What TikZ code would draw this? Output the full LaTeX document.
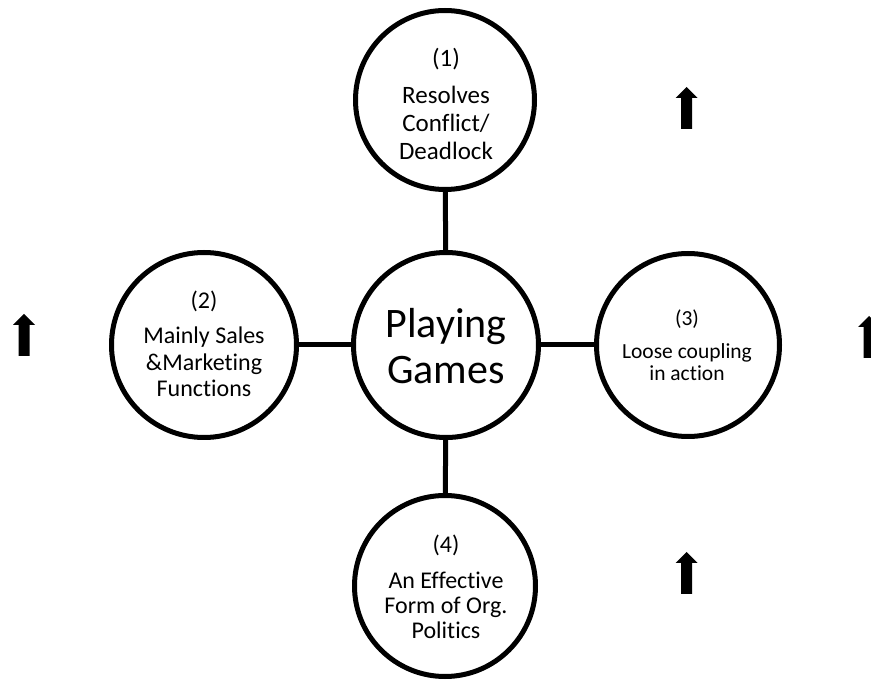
\documentclass[tikz,border=0pt]{standalone}
\usepackage{fontspec}
\setmainfont{Carlito}[Ligatures=NoCommon]
\begin{document}
\begin{tikzpicture}[x=1pt,y=-1pt,
  bubble/.style={draw=black, line width=5pt, circle, inner sep=0pt, fill=white},
  caption/.style={inner sep=0pt, align=center},
  link/.style={line width=5pt},
  uparrow/.pic={\fill[black] (0,0) -- (11,11) -- (5.5,11) -- (5.5,42) -- (-5.5,42) -- (-5.5,11) -- (-11,11) -- cycle;}
]
% canvas
\fill[white] (0,0) rectangle (871,684);
\useasboundingbox (0,0) rectangle (871,684);

% bubbles
\node[bubble, minimum size=179pt] (conflict) at (445,100) {};
\node[bubble, minimum size=185pt] (games) at (446,345) {};
\node[bubble, minimum size=185pt] (sales) at (204,345) {};
\node[bubble, minimum size=183pt] (coupling) at (688,345) {};
\node[bubble, minimum size=181pt] (politics) at (445,586) {};

% bubble texts
\node[caption, font=\fontsize{25}{28}\selectfont] (conflict-text) at (446,104)
  {(1)\\[9pt]Resolves\\Conflict/\\Deadlock};
\node[caption, font=\fontsize{42}{46}\selectfont] (games-text) at (446,346)
  {Playing\\Games};
\node[caption, font=\fontsize{24}{26.5}\selectfont] (sales-text) at (204,344)
  {(2)\\[9pt]Mainly Sales\\\&Marketing\\Functions};
\node[caption, font=\fontsize{21.5}{22}\selectfont] (coupling-text) at (687,345)
  {(3)\\[11pt]Loose coupling\\in action};
\node[caption, font=\fontsize{24}{25}\selectfont] (politics-text) at (446,587)
  {(4)\\[10.5pt]An Effective\\Form of Org.\\Politics};

% connectors
\draw[link] (conflict) -- (games);
\draw[link] (sales) -- (games);
\draw[link] (games) -- (coupling);
\draw[link] (games) -- (politics);

% upward arrows
\pic at (686.5,87) {uparrow};
\pic at (24,314) {uparrow};
\pic at (869,316) {uparrow};
\pic at (686.5,552) {uparrow};
\end{tikzpicture}
\end{document}
